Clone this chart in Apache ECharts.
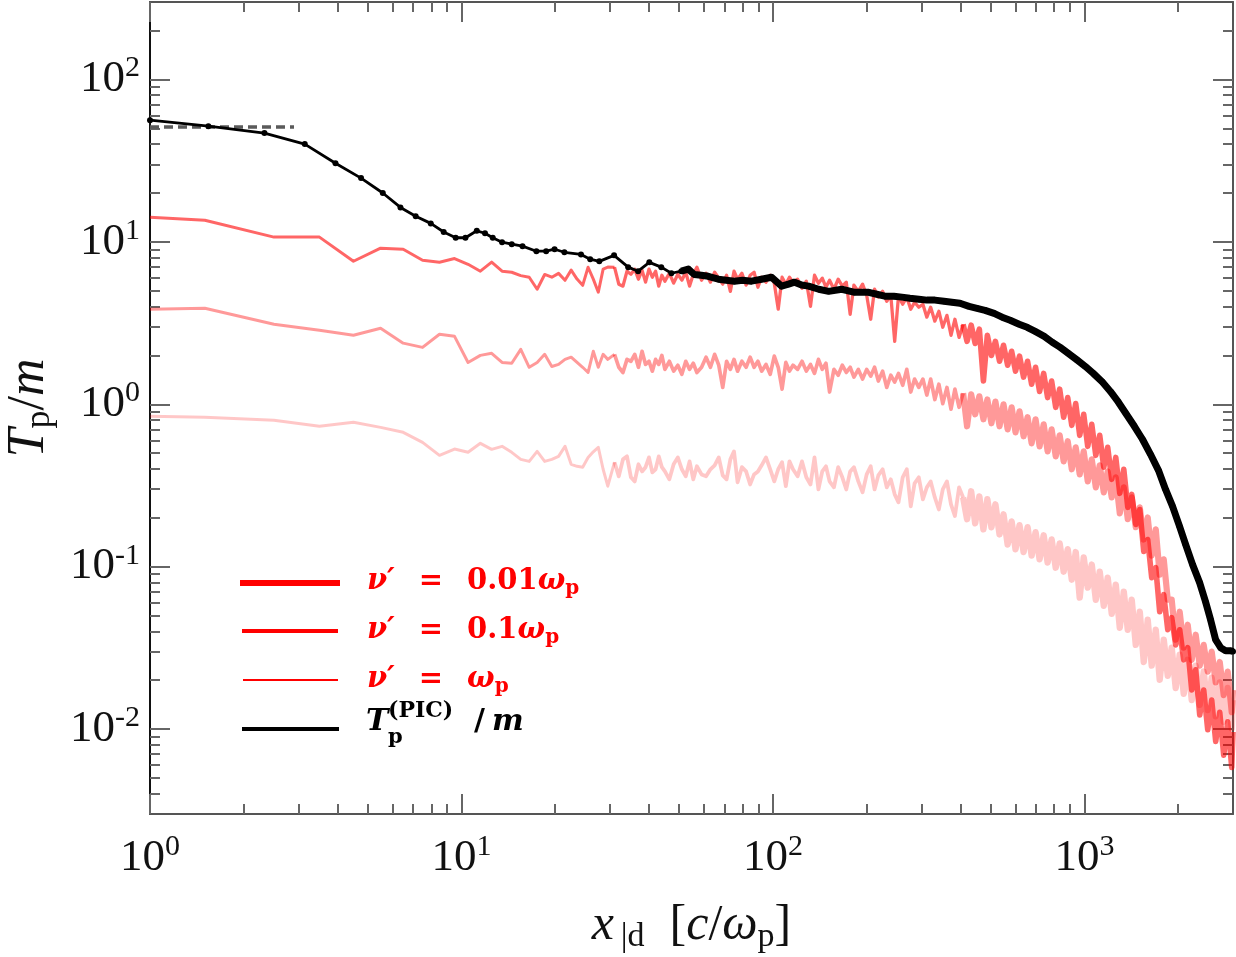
<!DOCTYPE html>
<html>
<head>
<meta charset="utf-8">
<script src="https://cdn.jsdelivr.net/npm/echarts@6/dist/echarts.min.js"></script>
<style>
html, body { margin: 0; padding: 0; background: #ffffff; }
#chart { width: 1236px; height: 957px; }
</style>
</head>
<body>
<div id="chart"></div>
<script>
// ---------------- DATA ----------------
// shared x samples for the three collisional (nu') curves
const xLow = [1, 1.5, 2.5, 3.5, 4.5, 5.5, 6.5, 7.5, 8.5, 9.5,
  10.5, 11.5, 12.5, 13.5, 14.5, 15.5, 16.5, 17.5, 18.5, 19.5,
  20.5, 21.5, 22.5, 23.5, 24.5, 25.5, 26.5, 27.5, 28.5, 29.5];
const xDense = [
  31, 32, 33, 34, 35, 36, 37, 38, 39, 40,
  41, 42, 43, 44, 45, 46.5, 48, 49.5, 51, 52.5,
  54, 55.5, 57, 59, 61, 63, 65, 67, 69, 71,
  73, 75, 77, 79.5, 82, 84.5, 87, 89.5, 92, 95,
  98, 101, 104, 107, 110, 113, 116, 120, 124, 128,
  132, 136, 140, 144, 148, 152, 157, 162, 167, 172,
  177, 182, 188, 194, 200, 206, 212, 218, 225, 232,
  239, 246, 253, 261, 269, 277, 285, 294, 303, 312,
  321, 331, 341, 351, 362, 373, 384, 396, 408, 420,
  433, 446, 460, 474, 488, 503, 518, 534, 550, 567,
  584, 601, 619, 638, 657, 677, 697, 718, 740, 762,
  785, 809, 833, 858, 884, 911, 938, 966, 995, 1025,
  1056, 1088, 1120, 1154, 1188, 1224, 1261, 1299, 1338, 1378,
  1419, 1462, 1506, 1551, 1597, 1645, 1695, 1745, 1798, 1852,
  1907, 1964, 2023, 2084, 2147, 2211, 2277, 2346, 2416, 2489,
  2563, 2640, 2720, 2801, 2885, 2972, 3000];

// nu' = 0.01 omega_p
const nu001Low = [14.2, 13.6, 10.7, 10.7, 7.6, 9.15, 9.0, 7.7, 7.5, 7.9,
  7.28, 6.6, 7.5, 6.6, 6.5, 6.2, 6.06, 5.11, 6.3, 6.06,
  6.4, 5.8, 6.7, 5.9, 5.4, 6.98, 5.9, 4.9, 6.8, 7.0];
const nu001Dense = [
  6.99, 5.49, 5.34, 6.60, 6.32, 6.79, 5.89, 6.70, 5.65, 6.79,
  6.06, 6.60, 5.34, 6.23, 5.73, 6.41, 5.57, 6.32, 5.81, 6.50,
  5.34, 6.32, 6.99, 5.81, 6.41, 5.65, 6.50, 5.98, 5.49, 6.23,
  4.96, 6.60, 5.89, 6.41, 5.42, 6.23, 6.50, 5.26, 6.06, 5.65,
  6.23, 5.57, 3.85, 6.06, 5.49, 6.06, 5.65, 5.89, 5.18, 5.73,
  4.01, 6.23, 5.57, 5.98, 5.26, 5.81, 5.11, 5.89, 5.34, 5.65,
  3.58, 5.42, 4.96, 5.49, 4.69, 3.34, 5.11, 4.57, 4.96, 4.31,
  4.69, 2.44, 4.63, 4.13, 4.57, 3.85, 4.25, 3.96, 4.13, 3.44,
  3.96, 3.25, 3.74, 2.98, 3.53, 2.66, 3.34, 2.58, 3.11, 2.44,
  3.07, 2.37, 2.90, 1.39, 2.66, 2.00, 2.44, 1.84, 2.31, 1.74,
  2.12, 1.60, 1.98, 1.47, 1.84, 1.33, 1.69, 1.20, 1.55, 1.10,
  1.39, 0.958, 1.24, 0.832, 1.10, 0.742, 1.01, 0.644, 0.868, 0.551,
  0.753, 0.485, 0.644, 0.410, 0.543, 0.345, 0.471, 0.283, 0.398, 0.232,
  0.279, 0.182, 0.225, 0.124, 0.147, 0.0856, 0.0986, 0.0528, 0.0672, 0.0409,
  0.0485, 0.0330, 0.0409, 0.0267, 0.0317, 0.0174, 0.0232, 0.0122, 0.0174, 0.0099,
  0.0151, 0.0084, 0.0127, 0.0069, 0.0111, 0.0058, 0.0096];

// nu' = 0.1 omega_p
const nu01Low = [3.85, 3.9, 3.11, 2.86, 2.66, 2.94, 2.38, 2.24, 2.70, 2.62,
  1.81, 2.0, 2.06, 1.81, 1.79, 2.18, 1.69, 1.81, 2.03, 1.71,
  1.76, 1.89, 1.95, 1.81, 1.69, 1.57, 2.12, 1.69, 2.03, 1.89];
const nu01Dense = [
  2.03, 1.69, 1.57, 1.89, 1.84, 2.03, 1.69, 2.12, 1.76, 1.84,
  1.60, 1.89, 1.76, 2.00, 1.64, 1.84, 1.60, 1.74, 1.53, 1.84,
  1.64, 1.79, 1.57, 1.69, 1.95, 1.69, 2.03, 1.74, 1.27, 1.84,
  1.64, 1.89, 1.60, 1.84, 1.69, 1.95, 1.69, 1.84, 1.60, 1.76,
  1.53, 1.98, 1.69, 1.24, 1.81, 1.60, 1.74, 1.64, 1.84, 1.60,
  1.76, 1.55, 1.89, 1.64, 1.79, 1.19, 1.64, 1.51, 1.74, 1.57,
  1.69, 1.47, 1.64, 1.43, 1.64, 1.49, 1.69, 1.39, 1.60, 1.27,
  1.51, 1.37, 1.55, 1.31, 1.64, 1.19, 1.43, 1.27, 1.43, 1.14,
  1.43, 1.07, 1.33, 1.01, 1.27, 0.932, 1.24, 0.958, 1.17, 0.732,
  1.15, 0.868, 1.12, 0.808, 1.07, 0.764, 1.04, 0.732, 1.00, 0.701,
  0.958, 0.672, 0.905, 0.635, 0.832, 0.575, 0.808, 0.551, 0.753, 0.513,
  0.701, 0.478, 0.644, 0.445, 0.592, 0.398, 0.543, 0.370, 0.513, 0.335,
  0.458, 0.308, 0.421, 0.287, 0.386, 0.267, 0.355, 0.213, 0.308, 0.196,
  0.267, 0.175, 0.232, 0.147, 0.201, 0.117, 0.170, 0.0893, 0.111, 0.0626,
  0.0626, 0.0355, 0.0528, 0.0317, 0.0439, 0.0267, 0.0381, 0.0246, 0.0330, 0.0226,
  0.0300, 0.0194, 0.0259, 0.0162, 0.0226, 0.0127, 0.0174];

// nu' = omega_p
const nu1Low = [0.844, 0.832, 0.797, 0.732, 0.775, 0.721, 0.672, 0.583, 0.485, 0.53,
  0.506, 0.575, 0.528, 0.551, 0.506, 0.458, 0.445, 0.513, 0.445, 0.458,
  0.478, 0.551, 0.427, 0.415, 0.41, 0.47, 0.51, 0.543, 0.398, 0.313];
const nu1Dense = [
  0.440, 0.360, 0.458, 0.478, 0.355, 0.335, 0.427, 0.386, 0.410, 0.471,
  0.381, 0.398, 0.478, 0.410, 0.386, 0.345, 0.427, 0.471, 0.398, 0.360,
  0.445, 0.345, 0.415, 0.370, 0.360, 0.398, 0.421, 0.471, 0.365, 0.345,
  0.458, 0.513, 0.331, 0.410, 0.386, 0.321, 0.370, 0.386, 0.421, 0.471,
  0.398, 0.335, 0.398, 0.440, 0.313, 0.445, 0.398, 0.360, 0.445, 0.355,
  0.321, 0.471, 0.299, 0.386, 0.415, 0.335, 0.308, 0.410, 0.355, 0.299,
  0.386, 0.410, 0.335, 0.287, 0.370, 0.415, 0.299, 0.365, 0.398, 0.308,
  0.345, 0.279, 0.249, 0.355, 0.398, 0.235, 0.326, 0.355, 0.260, 0.308,
  0.335, 0.267, 0.225, 0.299, 0.335, 0.242, 0.205, 0.308, 0.267, 0.196,
  0.291, 0.185, 0.271, 0.170, 0.260, 0.175, 0.242, 0.158, 0.210, 0.137,
  0.190, 0.128, 0.180, 0.123, 0.175, 0.117, 0.163, 0.111, 0.156, 0.106,
  0.147, 0.0986, 0.139, 0.0932, 0.128, 0.0832, 0.123, 0.0645, 0.114, 0.0743,
  0.103, 0.0626, 0.0932, 0.0575, 0.0856, 0.0513, 0.0775, 0.0421, 0.0702, 0.0409,
  0.0626, 0.0330, 0.0528, 0.0259, 0.0471, 0.0246, 0.0409, 0.0201, 0.0355, 0.0213,
  0.0317, 0.0179, 0.0287, 0.0165, 0.0267, 0.0151, 0.0246, 0.0141, 0.0226, 0.0131,
  0.0207, 0.0120, 0.0194, 0.0111, 0.0179, 0.0101, 0.0151];

// PIC temperature (black, with markers)
const picX = [1, 1.54, 2.33, 3.14, 3.94, 4.76, 5.59, 6.37, 7.13, 7.97,
  8.77, 9.58, 10.3, 11.2, 11.9, 12.6, 13.5, 14.5, 15.7, 17.4,
  18.7, 19.9, 21.4, 24.2, 25.9, 27.7,
  30.9, 34.3, 36.9, 40.1, 43.8, 47.2, 50.8, 53.5, 55.9, 58.9,
  62.0, 66.8, 70.9, 75.2, 79.9, 85.3, 91.9, 98.9, 106.6, 112.2,
  117.3, 123.6, 130.2, 140.3, 151.0, 166.3, 183.1, 203.1, 215.5, 228.7,
  244.5, 259.4, 275.3, 294.2, 312.2, 331.3, 354.1, 375.6, 398.6, 426.2,
  452.2, 479.9, 512.9, 544.3, 577.5, 617.3, 655.0, 695.0, 743.0, 788.5,
  836.6, 887.8, 948.9, 1007, 1068, 1142, 1212, 1286, 1364, 1447,
  1536, 1630, 1729, 1822, 1919, 2021, 2113, 2225, 2344, 2449,
  2542, 2638, 2738, 2841, 2949, 3000];
const picY = [56.2, 51.6, 46.8, 40.0, 30.5, 24.7, 20.0, 16.3, 14.4, 13.0,
  11.5, 10.6, 10.6, 11.7, 11.3, 10.6, 9.96, 9.68, 9.41, 8.76,
  8.76, 9.01, 8.63, 8.37, 7.82, 7.59,
  8.26, 6.99, 6.60, 7.48, 6.99, 6.41, 6.60, 6.80, 6.30, 6.23,
  6.14, 5.89, 5.81, 5.73, 5.81, 5.73, 5.89, 6.06, 5.34, 5.49,
  5.65, 5.42, 5.34, 5.11, 4.96, 5.11, 4.89, 4.89, 4.76, 4.63,
  4.63, 4.57, 4.50, 4.44, 4.38, 4.38, 4.31, 4.25, 4.19, 4.01,
  3.90, 3.79, 3.63, 3.44, 3.29, 3.11, 2.98, 2.81, 2.62, 2.41,
  2.24, 2.06, 1.87, 1.71, 1.55, 1.37, 1.20, 1.03, 0.868, 0.732,
  0.609, 0.492, 0.392, 0.299, 0.235, 0.177, 0.137, 0.103, 0.0798, 0.0608,
  0.0471, 0.0355, 0.0317, 0.0304, 0.0304, 0.0300];

// dashed reference level
const refX = [1, 2.9];
const refY = [51, 51];

// axis ticks
const xMajorTicks = [1, 10, 100, 1000];
const xMajorExp = ['0', '1', '2', '3'];
const xMinorTicks = [2, 3, 4, 5, 6, 7, 8, 9, 20, 30, 40, 50, 60, 70, 80, 90,
  200, 300, 400, 500, 600, 700, 800, 900, 2000];
const yMajorTicks = [0.01, 0.1, 1, 10, 100];
const yMajorExp = ['-2', '-1', '0', '1', '2'];
const yMinorTicks = [0.004, 0.005, 0.006, 0.007, 0.008, 0.009,
  0.02, 0.03, 0.04, 0.05, 0.06, 0.07, 0.08, 0.09,
  0.2, 0.3, 0.4, 0.5, 0.6, 0.7, 0.8, 0.9,
  2, 3, 4, 5, 6, 7, 8, 9, 20, 30, 40, 50, 60, 70, 80, 90, 200];

// ---------------- BUILD ----------------
const xAll = xLow.concat(xDense);
function pairs(xs, ys) { return xs.map((x, i) => [x, ys[i]]); }
function seg(data, x0, x1) { return data.filter(p => p[0] >= x0 && p[0] <= x1); }
const nu001 = pairs(xAll, nu001Low.concat(nu001Dense));
const nu01 = pairs(xAll, nu01Low.concat(nu01Dense));
const nu1 = pairs(xAll, nu1Low.concat(nu1Dense));
const pic = pairs(picX, picY);
const ref = pairs(refX, refY);

const FONT = "'Liberation Serif', 'Times New Roman', serif";
const LEGFONT = "'DejaVu Serif', serif";
const AX = '#555';

function expLabel(ticks, exps) {
  return function (v) {
    const i = ticks.findIndex(t => Math.abs(t - v) / t < 1e-6);
    if (i < 0) return '';
    return '{b|10}{s|' + exps[i] + '}';
  };
}
const labelRich = {
  b: { fontSize: 45, fontFamily: FONT, color: '#111' },
  s: { fontSize: 30, fontFamily: FONT, color: '#111', padding: [0, 0, 22, 0] }
};

function xAxisCfg(pos, major, showLabel) {
  return {
    type: 'log', logBase: 10, min: 1, max: 3000, gridIndex: 0, position: pos,
    axisLine: { show: major, lineStyle: { color: AX, width: 2 } },
    axisTick: { show: true, inside: true, length: major ? 20 : 10,
      customValues: major ? xMajorTicks : xMinorTicks,
      lineStyle: { color: '#666', width: 2 } },
    axisLabel: { show: showLabel, customValues: xMajorTicks, margin: 18,
      formatter: expLabel(xMajorTicks, xMajorExp), rich: labelRich },
    splitLine: { show: false }, minorTick: { show: false },
    name: showLabel ? '{i|x}{s|\u2009|d}{n|  [}{i|c}{n|/}{i|\u03c9}{s|p}{n|]}' : '',
    nameLocation: 'middle', nameGap: 84,
    nameTextStyle: { rich: {
      i: { fontSize: 50, fontFamily: FONT, fontStyle: 'italic', color: '#111' },
      n: { fontSize: 50, fontFamily: FONT, color: '#111' },
      s: { fontSize: 34, fontFamily: FONT, color: '#111', padding: [22, 0, 0, 0] }
    } }
  };
}
function yAxisCfg(pos, major, showLabel) {
  return {
    type: 'log', logBase: 10, min: 0.003, max: 300, gridIndex: 0, position: pos,
    axisLine: { show: major, lineStyle: { color: pos === 'left' ? '#111' : AX, width: 2 } },
    axisTick: { show: true, inside: true, length: major ? 20 : 10,
      customValues: major ? yMajorTicks : yMinorTicks,
      lineStyle: { color: '#666', width: 2 } },
    axisLabel: { show: showLabel, customValues: yMajorTicks, margin: 10,
      formatter: expLabel(yMajorTicks, yMajorExp), rich: labelRich },
    splitLine: { show: false }, minorTick: { show: false },
    name: showLabel ? '{i|T}{s|p}{n|/}{i|m}' : '',
    nameLocation: 'middle', nameGap: 92,
    nameTextStyle: { rich: {
      i: { fontSize: 52, fontFamily: FONT, fontStyle: 'italic', color: '#111' },
      n: { fontSize: 52, fontFamily: FONT, color: '#111' },
      s: { fontSize: 36, fontFamily: FONT, color: '#111', padding: [22, 0, 0, 0] }
    } }
  };
}

const RED = '#ff0000';
function legendText(y, rest) {
  const base = { fontFamily: LEGFONT, fontWeight: 'bold', fill: RED };
  return {
    type: 'text', left: 367, top: y - 19, silent: true,
    style: {
      text: '{i|\u03bd\u2032}{e|=}' + rest,
      rich: {
        i: Object.assign({ fontSize: 29, fontStyle: 'italic' }, base),
        e: Object.assign({ fontSize: 29, padding: [0, 24, 0, 24] }, base),
        n: Object.assign({ fontSize: 29 }, base),
        s: Object.assign({ fontSize: 20, padding: [14, 0, 0, 0] }, base)
      }
    }
  };
}
function lineSeries(name, data, color, width, z) {
  return { type: 'line', name: name, data: data, showSymbol: false, silent: true, z: z,
    lineStyle: { color: color, width: width, join: 'round' } };
}
const C1 = 'rgba(255,0,0,0.6)', C2 = 'rgba(255,0,0,0.4)', C3 = 'rgba(255,0,0,0.22)';

const chart = echarts.init(document.getElementById('chart'), null, { renderer: 'canvas' });
chart.setOption({
  animation: false,
  backgroundColor: '#ffffff',
  grid: { left: 150, right: 3, top: 2, bottom: 143, containLabel: false, outerBoundsMode: 'none' },
  xAxis: [xAxisCfg('bottom', true, true), xAxisCfg('bottom', false, false),
          xAxisCfg('top', true, false), xAxisCfg('top', false, false)],
  yAxis: [yAxisCfg('left', true, true), yAxisCfg('left', false, false),
          yAxisCfg('right', true, false), yAxisCfg('right', false, false)],
  series: [
    lineSeries('nu1 low', seg(nu1, 1, 31), C3, 3, 2),
    lineSeries('nu1 mid', seg(nu1, 31, 408), C3, 3.8, 2),
    lineSeries('nu1 high', seg(nu1, 408, 3000), C3, 6.4, 2),
    lineSeries('nu01 low', seg(nu01, 1, 31), C2, 3, 3),
    lineSeries('nu01 mid', seg(nu01, 31, 408), C2, 3.7, 3),
    lineSeries('nu01 high', seg(nu01, 408, 3000), C2, 6.2, 3),
    lineSeries('nu001 low', seg(nu001, 1, 31), C1, 3, 4),
    lineSeries('nu001 mid', seg(nu001, 31, 408), C1, 3.3, 4),
    lineSeries('nu001 high', seg(nu001, 408, 3000), C1, 5.6, 4),
    { type: 'line', name: 'ref', data: ref, showSymbol: false, silent: true, z: 5,
      lineStyle: { color: '#5a5a5a', width: 3.6, type: [9, 5] } },
    { type: 'line', name: 'pic', data: pic, silent: true, z: 6,
      symbol: 'circle', symbolSize: 6, showSymbol: true,
      itemStyle: { color: '#000' }, lineStyle: { color: '#000', width: 2.8 } },
    { type: 'line', name: 'pic thick', data: seg(pic, 50, 3000), showSymbol: false, silent: true, z: 6,
      lineStyle: { color: '#000', width: 7, join: 'round' } }
  ],
  graphic: [
    { type: 'line', silent: true, shape: { x1: 240, y1: 583, x2: 340, y2: 583 }, style: { stroke: RED, lineWidth: 6 } },
    { type: 'line', silent: true, shape: { x1: 242, y1: 631, x2: 338, y2: 631 }, style: { stroke: RED, lineWidth: 4 } },
    { type: 'line', silent: true, shape: { x1: 243, y1: 680, x2: 338, y2: 680 }, style: { stroke: RED, lineWidth: 2 } },
    { type: 'line', silent: true, shape: { x1: 242, y1: 729, x2: 339, y2: 729 }, style: { stroke: '#000', lineWidth: 4 } },
    legendText(586, '{n|0.01}{i|\u03c9}{s|p}'),
    legendText(635, '{n|0.1}{i|\u03c9}{s|p}'),
    legendText(684, '{i|\u03c9}{s|p}'),
    { type: 'text', left: 366, top: 707, silent: true,
      style: { text: 'T', fontSize: 30, fontStyle: 'italic', fontWeight: 'bold', fontFamily: LEGFONT, fill: '#000' } },
    { type: 'text', left: 388, top: 700, silent: true,
      style: { text: '(PIC)', fontSize: 22, fontWeight: 'bold', fontFamily: LEGFONT, fill: '#000' } },
    { type: 'text', left: 388, top: 727, silent: true,
      style: { text: 'p', fontSize: 21, fontWeight: 'bold', fontFamily: LEGFONT, fill: '#000' } },
    { type: 'text', left: 474, top: 707, silent: true,
      style: { text: '/', fontSize: 30, fontWeight: 'bold', fontFamily: LEGFONT, fill: '#000' } },
    { type: 'text', left: 492, top: 707, silent: true,
      style: { text: 'm', fontSize: 30, fontStyle: 'italic', fontWeight: 'bold', fontFamily: LEGFONT, fill: '#000' } }
  ]
});
</script>
</body>
</html>
